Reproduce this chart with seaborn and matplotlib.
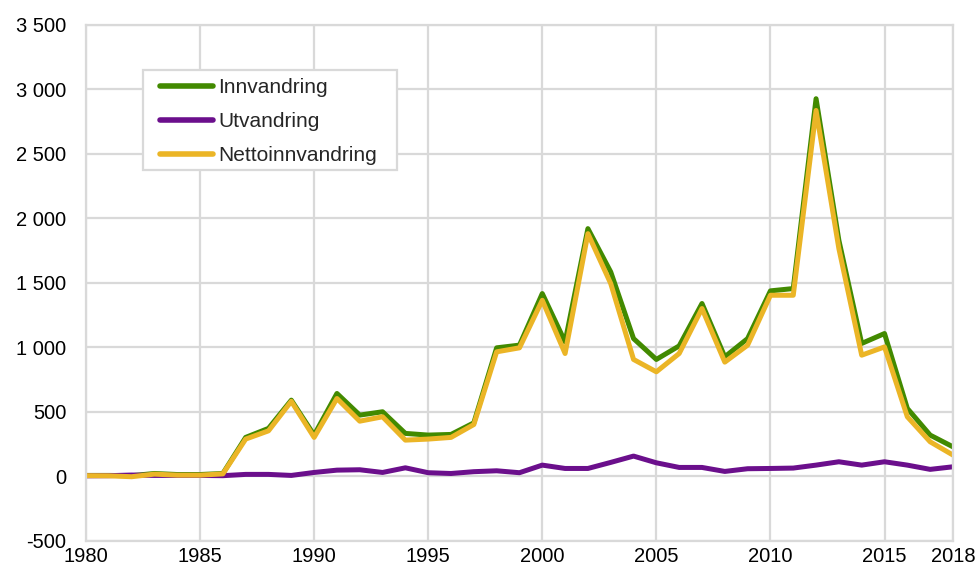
import matplotlib
matplotlib.use("Agg")
import matplotlib.pyplot as plt
import matplotlib.ticker as mticker
from matplotlib.patches import Rectangle
import numpy as np
import pandas as pd
import seaborn as sns

years = list(range(1980, 2019))
innvandring = [5, 5, 3, 20, 12, 12, 20, 300, 370, 589, 318, 641, 473, 499, 331, 318, 323,
               413, 995, 1016, 1416, 1041, 1920, 1584, 1067, 905, 1010, 1339, 925, 1067,
               1437, 1455, 2928, 1829, 1029, 1106, 525, 318, 227]
utvandring = [2, 3, 8, 5, 5, 5, 3, 13, 13, 5, 28, 46, 49, 28, 64, 26, 20,
              34, 41, 26, 85, 59, 59, 106, 155, 103, 67, 67, 36, 57,
              59, 62, 85, 111, 85, 111, 85, 52, 72]
netto = [3, 2, -5, 15, 7, 7, 17, 287, 351, 580, 300, 602, 426, 460, 279, 287, 300,
         400, 964, 995, 1364, 951, 1881, 1494, 905, 809, 951, 1300, 884, 1016,
         1403, 1403, 2837, 1765, 938, 1002, 460, 266, 163]
series_names = ["Innvandring", "Utvandring", "Nettoinnvandring"]
colors = ["#428A00", "#6B0F8C", "#EBB526"]
xtick_vals = [1980, 1985, 1990, 1995, 2000, 2005, 2010, 2015, 2018]

df = pd.DataFrame({
    "År": years * 3,
    "Verdi": innvandring + utvandring + netto,
    "Serie": [series_names[0]] * len(years) + [series_names[1]] * len(years) + [series_names[2]] * len(years),
})

sns.set_theme(style="white")
plt.rcParams["font.family"] = ["Liberation Sans", "DejaVu Sans"]

fig = plt.figure(figsize=(9.79, 5.68), dpi=100)
ax = fig.add_axes([0.0878, 0.0484, 0.8856, 0.9076])

sns.lineplot(data=df, x="År", y="Verdi", hue="Serie", hue_order=series_names,
             palette=colors, linewidth=3.6, ax=ax, legend=True)

ax.set_xlim(1980, 2018)
ax.set_ylim(-500, 3500)
ax.set_xticks(xtick_vals)
ax.set_yticks(np.arange(-500, 3501, 500))
ax.yaxis.set_major_formatter(mticker.FuncFormatter(
    lambda v, p: f"{int(v):,}".replace(",", " ")))
ax.grid(True, color="#D9D9D9", linewidth=1.6)
ax.set_axisbelow(True)
for s in ax.spines.values():
    s.set_color("#D9D9D9")
    s.set_linewidth(1.6)
ax.tick_params(axis="both", labelsize=14.5, length=0, colors="black")
ax.tick_params(axis="y", pad=14)
ax.tick_params(axis="x", pad=5)
ax.set_xlabel("")
ax.set_ylabel("")

# legend frame box
frame = Rectangle((0.0654, 0.7187), 0.293, 0.194, transform=ax.transAxes,
                  facecolor="white", edgecolor="#D9D9D9", linewidth=1.6, zorder=4)
ax.add_patch(frame)

leg = ax.legend(loc="upper left", bbox_to_anchor=(0.0854, 0.897), fontsize=15,
                frameon=False, handlelength=2.55, handletextpad=0.25, borderpad=0,
                labelspacing=0.72, borderaxespad=0)
leg.set_zorder(5)
for line in leg.get_lines():
    line.set_linewidth(4.0)
    line.set_solid_capstyle("round")

fig.savefig("out.png", dpi=100)
